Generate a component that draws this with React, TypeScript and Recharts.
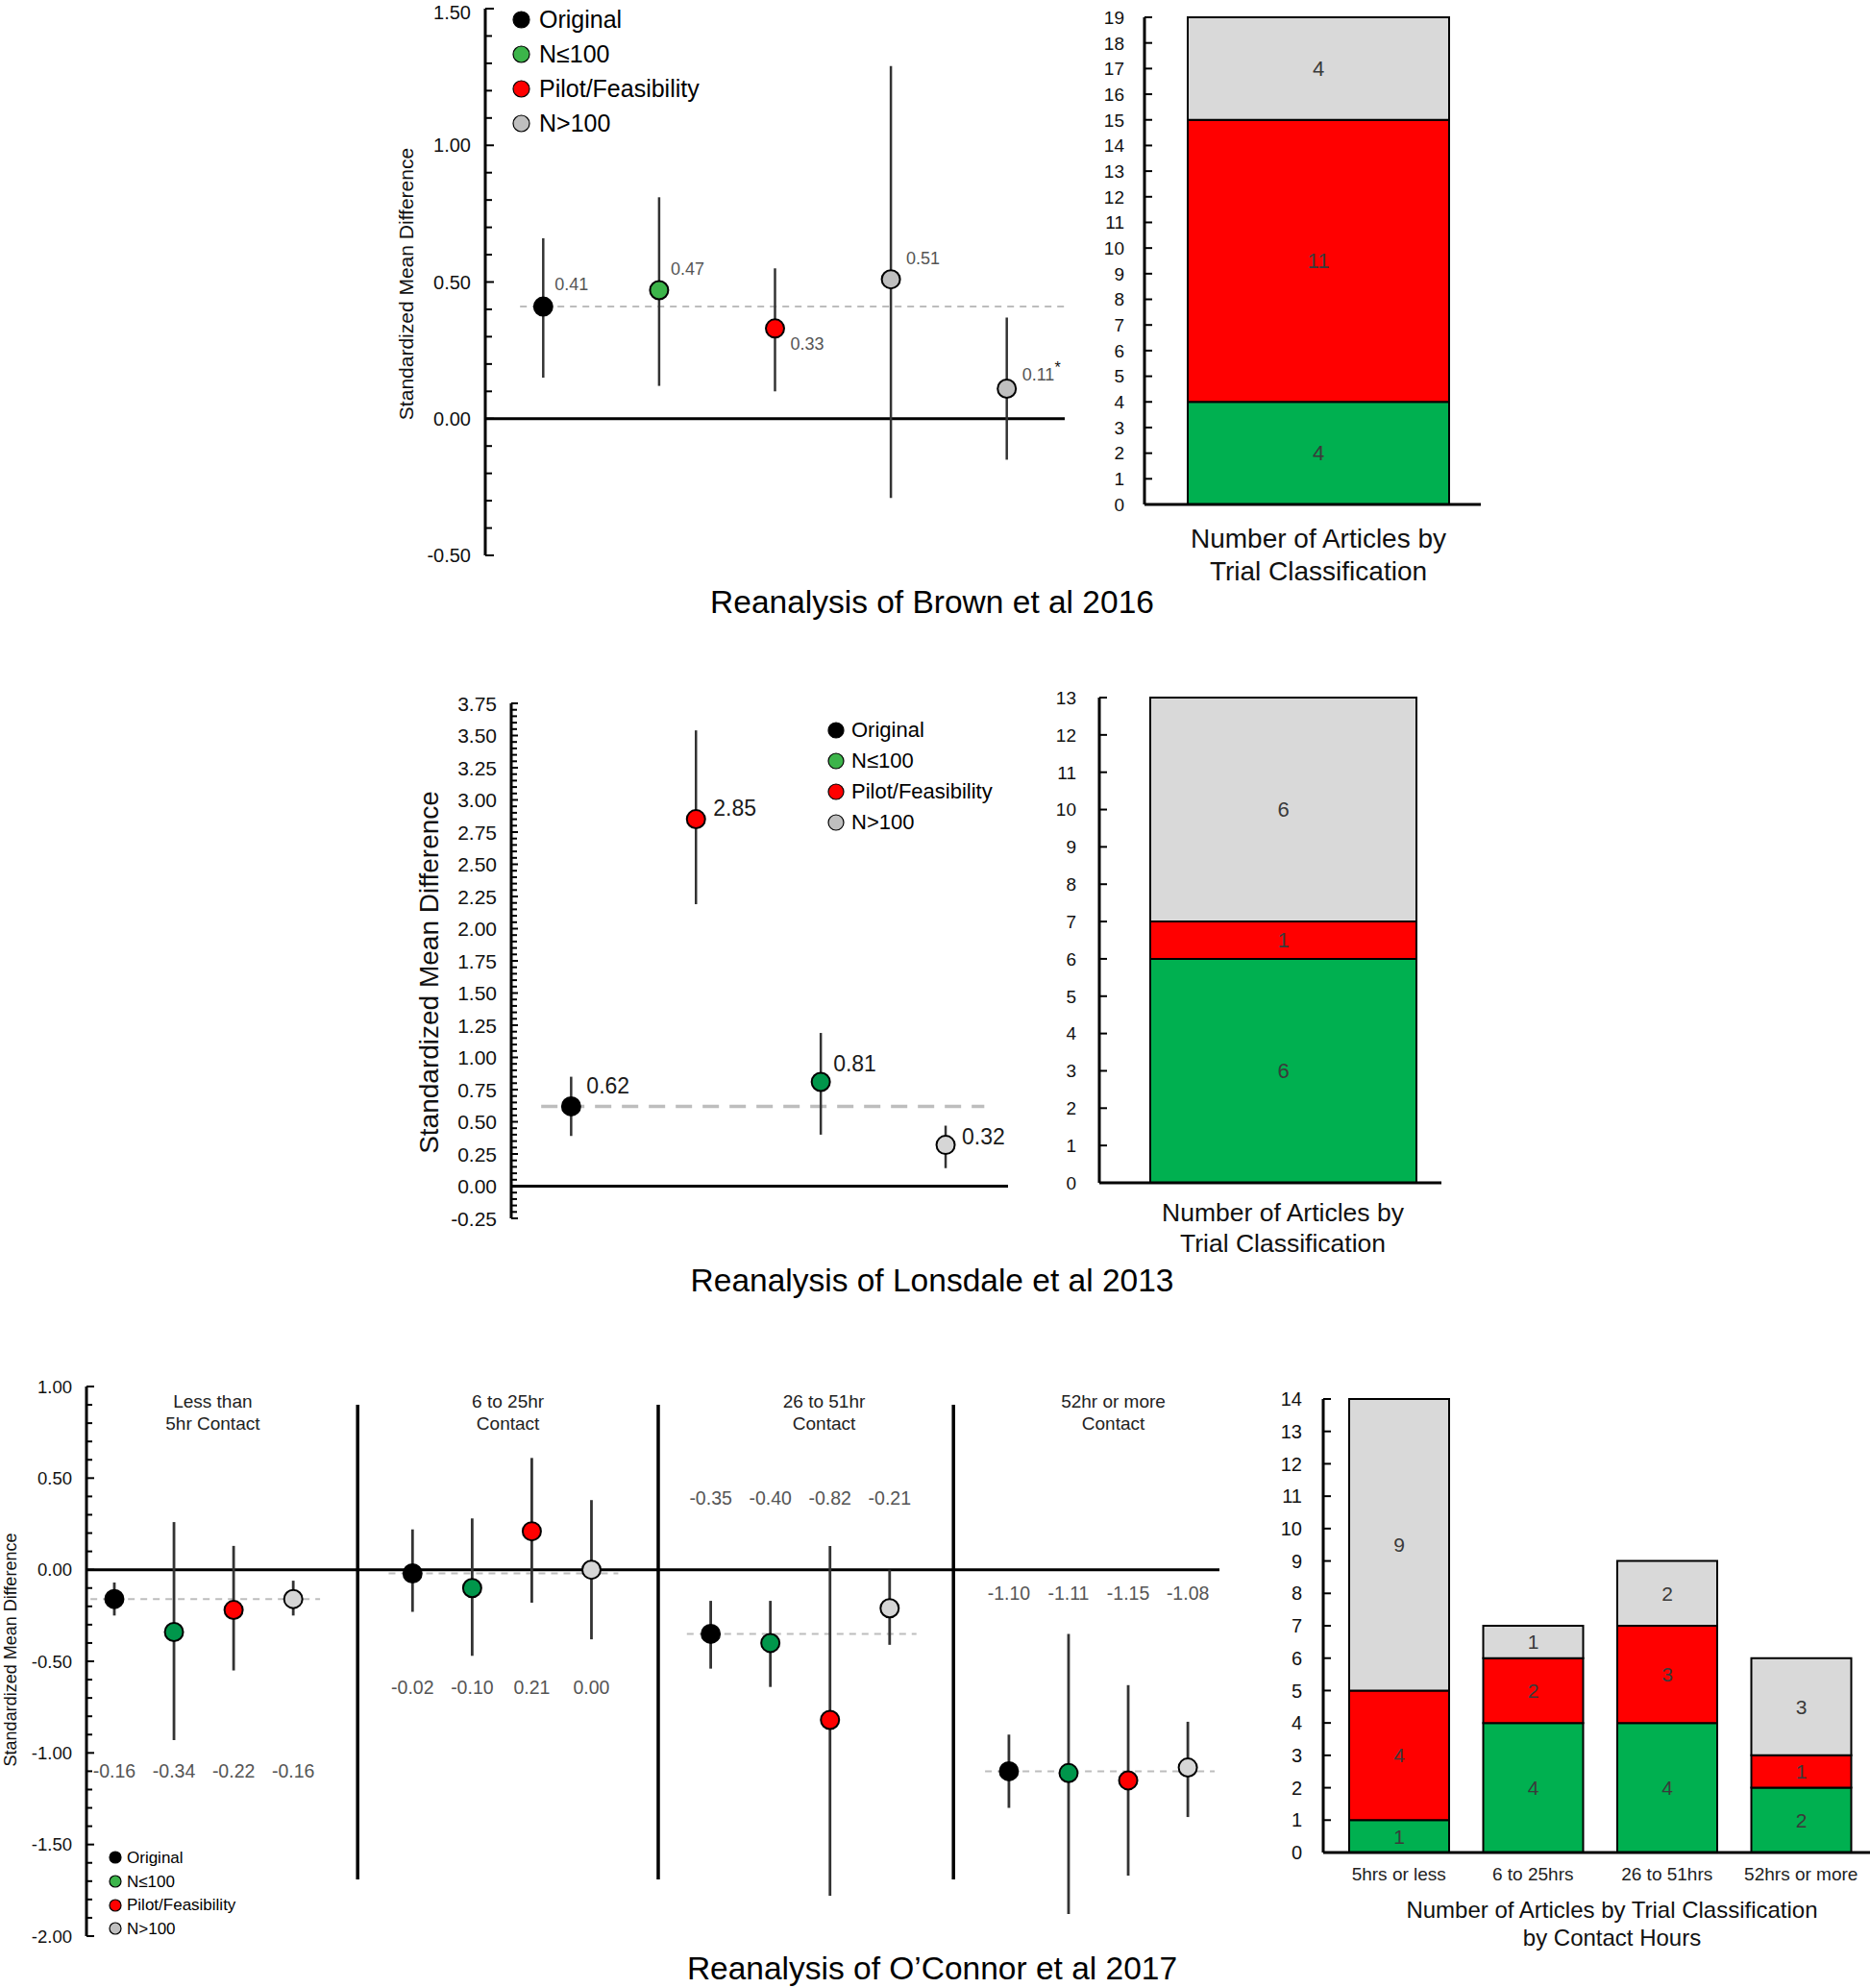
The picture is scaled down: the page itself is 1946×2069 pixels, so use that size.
import React from 'react';
import {
  ScatterChart,
  Scatter,
  XAxis,
  YAxis,
  ErrorBar,
  ReferenceLine,
  Legend,
  BarChart,
  Bar,
  LabelList,
} from 'recharts';

const FONT = '"Liberation Sans", Arial, Helvetica, sans-serif';

// trial classifications (legend order)
const classes = ['Original', 'N≤100', 'Pilot/Feasibility', 'N>100'];

// --- Reanalysis of Brown et al 2016 ---
const brownClass = [0, 1, 2, 3, 3];
const brownSmd = [0.41, 0.47, 0.33, 0.51, 0.11];
const brownLow = [0.15, 0.12, 0.1, -0.29, -0.15];
const brownHigh = [0.66, 0.81, 0.55, 1.29, 0.37];
const brownNote = ['', '', '', '', '*'];
const brownTicks = [-0.5, 0, 0.5, 1, 1.5];
const brownArticles = [4, 11, 4]; // N≤100, pilot, N>100

// --- Reanalysis of Lonsdale et al 2013 ---
const lonsClass = [0, 2, 1, 3];
const lonsSmd = [0.62, 2.85, 0.81, 0.32];
const lonsLow = [0.39, 2.19, 0.4, 0.14];
const lonsHigh = [0.85, 3.54, 1.19, 0.47];
const lonsTicks = [-0.25, 0, 0.25, 0.5, 0.75, 1, 1.25, 1.5, 1.75, 2, 2.25, 2.5, 2.75, 3, 3.25, 3.5, 3.75];
const lonsArticles = [6, 1, 6];

// --- Reanalysis of O'Connor et al 2017 ---
const contactGroups = ['Less than\n5hr Contact', '6 to 25hr\nContact', '26 to 51hr\nContact', '52hr or more\nContact'];
const oconSmd = [
  [-0.16, -0.34, -0.22, -0.16],
  [-0.02, -0.1, 0.21, 0.0],
  [-0.35, -0.4, -0.82, -0.21],
  [-1.1, -1.11, -1.15, -1.08],
];
const oconLow = [
  [-0.25, -0.93, -0.55, -0.25],
  [-0.23, -0.47, -0.18, -0.38],
  [-0.54, -0.64, -1.78, -0.41],
  [-1.3, -1.88, -1.67, -1.35],
];
const oconHigh = [
  [-0.07, 0.26, 0.13, -0.06],
  [0.22, 0.28, 0.61, 0.38],
  [-0.17, -0.17, 0.13, 0.0],
  [-0.9, -0.35, -0.63, -0.83],
];
const oconTicks = [-2, -1.5, -1, -0.5, 0, 0.5, 1];
const hourLabels = ['5hrs or less', '6 to 25hrs', '26 to 51hrs', '52hrs or more'];
const hourSmall = [1, 4, 4, 2];
const hourPilot = [4, 2, 3, 1];
const hourLarge = [9, 1, 2, 3];

const articleCaption = 'Number of Articles by\nTrial Classification';

// --- styling ---
const BAR_GREEN = '#00b050';
const BAR_RED = '#ff0000';
const BAR_GRAY = '#d9d9d9';
const brownFills = ['#000000', '#3cb44a', '#ff0000', '#bfbfbf'];
const lonsFills = ['#000000', '#00964b', '#ff0000', '#d6d6d6'];
const legendFills = ['#000000', '#3cb44a', '#ff0000', '#bfbfbf'];
const brownLabelOffset = [[12, -24], [12, -23], [16, 16], [16, -22], [16, -15]];
const lonsLabelOffset = [[16, -22], [18, -12], [13, -19], [17, -9]];
// y (in SMD units) where each contact group's value row sits, and title x centres
const oconRowY = [-1.1, -0.64, 0.39, -0.13];
const oconTitleX = [2.65, 7.6, 12.9, 17.75];
const oconSeparators = [5.08, 10.12, 15.07];

const range = (a: number, b: number, step: number) => {
  const out: number[] = [];
  for (let v = a; v <= b + 1e-9; v += step) out.push(Math.round(v * 1000) / 1000);
  return out;
};

const axisTick =
  (o: { size: number; major: number[]; gap: number; long: number; short: number; digits: number }) =>
  (p: any) => {
    const v = Number(p.payload.value);
    const isMajor = o.major.some((m) => Math.abs(m - v) < 1e-6);
    // keep the topmost label inside the svg
    const ty = Math.max(p.y, o.size * 0.62);
    return (
      <g>
        <line x1={p.x} x2={p.x + (isMajor ? o.long : o.short)} y1={p.y} y2={p.y} stroke="#000" strokeWidth={2} />
        {isMajor && (
          <text x={p.x - o.gap} y={ty} dy="0.36em" textAnchor="end" fontSize={o.size} fontFamily={FONT} fill="#111">
            {v.toFixed(o.digits)}
          </text>
        )}
      </g>
    );
  };

const yTitle = (dx: number, dy: number, size: number) => (p: any) => {
  const vb = p.viewBox || { x: 0, y: 0, width: 0, height: 0 };
  const cx = vb.x + dx;
  const cy = vb.y + vb.height / 2 + dy;
  return (
    <text
      transform={`translate(${cx},${cy}) rotate(-90)`}
      textAnchor="middle"
      dominantBaseline="central"
      fontSize={size}
      fontFamily={FONT}
      fill="#111"
    >
      Standardized Mean Difference
    </text>
  );
};

const dot = (fills: string[], r: number, size: number, color: string) => (p: any) => {
  const d = p.payload;
  return (
    <g>
      <circle cx={p.cx} cy={p.cy} r={r} fill={fills[d.cls]} stroke="#000" strokeWidth={2} />
      {d.text && (
        <text x={p.cx + d.off[0]} y={p.cy + d.off[1]} dy="0.36em" fontSize={size} fontFamily={FONT} fill={color}>
          {d.text}
          {d.note && (
            <tspan dy="-0.5em" fontSize={size * 0.9} fill="#111">
              {d.note}
            </tspan>
          )}
        </text>
      )}
    </g>
  );
};

const legendBox = (size: number, r: number, row: number, gap: number) => () => (
  <div style={{ fontFamily: FONT, fontSize: size, color: '#000', lineHeight: 1 }}>
    {classes.map((c, i) => (
      <div key={c} style={{ display: 'flex', alignItems: 'center', height: row }}>
        <svg width={2 * r + 2} height={2 * r + 2} style={{ flex: 'none' }}>
          <circle cx={r + 1} cy={r + 1} r={r} fill={legendFills[i]} stroke="#000" strokeWidth={1.2} />
        </svg>
        <span style={{ marginLeft: gap, whiteSpace: 'nowrap' }}>{c}</span>
      </div>
    ))}
  </div>
);

const captionTick = (size: number, first: number, step: number) => (p: any) => {
  const lines = String(p.payload.value).split('\n');
  return (
    <text x={p.x} y={p.y + first} textAnchor="middle" fontSize={size} fontFamily={FONT} fill="#111">
      {lines.map((l, i) => (
        <tspan key={i} x={p.x} dy={i === 0 ? '0.36em' : step}>
          {l}
        </tspan>
      ))}
    </text>
  );
};

const segLabel = (color: string, size: number) => ({ position: 'center' as const, fill: color, fontSize: size, fontFamily: FONT });

function BrownForest() {
  const pts = brownSmd.map((v, i) => ({
    x: i + 0.5,
    y: v,
    err: [v - brownLow[i], brownHigh[i] - v],
    cls: brownClass[i],
    text: v.toFixed(2),
    note: brownNote[i],
    off: brownLabelOffset[i],
  }));
  return (
    <ScatterChart width={760} height={600} margin={{ top: 9, right: 32, bottom: 22, left: 0 }}>
      <XAxis type="number" dataKey="x" domain={[0, 5]} hide />
      <YAxis
        type="number"
        dataKey="y"
        domain={[-0.5, 1.5]}
        allowDataOverflow
        ticks={range(-0.5, 1.5, 0.1)}
        interval={0}
        width={125}
        tickSize={0}
        tickMargin={0}
        tickLine={false}
        axisLine={{ stroke: '#000', strokeWidth: 3 }}
        tick={axisTick({ size: 20, major: brownTicks, gap: 15, long: 9, short: 7, digits: 2 })}
        label={{ content: yTitle(42, 2, 21) }}
      />
      <ReferenceLine y={0} stroke="#000" strokeWidth={3} />
      <ReferenceLine
        segment={[{ x: 0.3, y: brownSmd[0] }, { x: 5, y: brownSmd[0] }]}
        stroke="#bdbdbd"
        strokeWidth={2}
        strokeDasharray="7 6"
      />
      <Scatter data={pts} shape={() => <g />} isAnimationActive={false}>
        <ErrorBar dataKey="err" direction="y" width={0} stroke="#333" strokeWidth={2.5} />
      </Scatter>
      <Scatter data={pts} shape={dot(brownFills, 9.5, 18, '#555')} isAnimationActive={false} />
      <Legend
        layout="vertical"
        align="center"
        verticalAlign="middle"
        content={legendBox(25, 8.5, 36, 9)}
        wrapperStyle={{ left: 153, top: 2, width: 'auto', height: 'auto' }}
      />
    </ScatterChart>
  );
}

function LonsdaleForest() {
  const pts = lonsSmd.map((v, i) => ({
    x: i + 1,
    y: v,
    err: [v - lonsLow[i], lonsHigh[i] - v],
    cls: lonsClass[i],
    text: v.toFixed(2),
    note: '',
    off: lonsLabelOffset[i],
  }));
  return (
    <ScatterChart width={640} height={600} margin={{ top: 32, right: 11, bottom: 32, left: 0 }}>
      <XAxis type="number" dataKey="x" domain={[0.52, 4.5]} hide />
      <YAxis
        type="number"
        dataKey="y"
        domain={[-0.25, 3.75]}
        allowDataOverflow
        ticks={range(-0.25, 3.75, 0.05)}
        interval={0}
        width={112}
        tickSize={0}
        tickMargin={0}
        tickLine={false}
        axisLine={{ stroke: '#000', strokeWidth: 3 }}
        tick={axisTick({ size: 21, major: lonsTicks, gap: 15, long: 7, short: 6, digits: 2 })}
        label={{ content: yTitle(26, 12, 28) }}
      />
      <ReferenceLine y={0} stroke="#000" strokeWidth={3} />
      <ReferenceLine
        segment={[{ x: 0.76, y: lonsSmd[0] }, { x: 4.31, y: lonsSmd[0] }]}
        stroke="#bdbdbd"
        strokeWidth={3.5}
        strokeDasharray="17 11"
      />
      <Scatter data={pts} shape={() => <g />} isAnimationActive={false}>
        <ErrorBar dataKey="err" direction="y" width={0} stroke="#333" strokeWidth={2.5} />
      </Scatter>
      <Scatter data={pts} shape={dot(lonsFills, 9.5, 23, '#1a1a1a')} isAnimationActive={false} />
      <Legend
        layout="vertical"
        align="center"
        verticalAlign="middle"
        content={legendBox(22, 8, 32, 7)}
        wrapperStyle={{ left: 441, top: 44, width: 'auto', height: 'auto' }}
      />
    </ScatterChart>
  );
}

function OConnorForest() {
  const pts = oconSmd.flatMap((g, gi) =>
    g.map((v, i) => ({
      x: gi * 5 + i + 1,
      y: v,
      err: [v - oconLow[gi][i], oconHigh[gi][i] - v],
      cls: i,
      text: '',
      note: '',
      off: [0, 0],
    }))
  );
  const rows = oconSmd.flatMap((g, gi) => g.map((v, i) => ({ x: gi * 5 + i + 1, y: oconRowY[gi], text: v.toFixed(2) })));
  const titles = contactGroups.map((t, gi) => ({ x: oconTitleX[gi], y: 0.86, text: t }));
  return (
    <ScatterChart width={1290} height={620} margin={{ top: 23, right: 21, bottom: 25, left: 0 }}>
      <XAxis type="number" dataKey="x" domain={[0.533, 19.53]} hide />
      <YAxis
        type="number"
        dataKey="y"
        domain={[-2, 1]}
        allowDataOverflow
        ticks={range(-2, 1, 0.1)}
        interval={0}
        width={90}
        tickSize={0}
        tickMargin={0}
        tickLine={false}
        axisLine={{ stroke: '#000', strokeWidth: 3 }}
        tick={axisTick({ size: 18.5, major: oconTicks, gap: 15, long: 8, short: 6, digits: 2 })}
        label={{ content: yTitle(11, -12, 18) }}
      />
      <ReferenceLine y={0} stroke="#000" strokeWidth={3} />
      {oconSeparators.map((sx) => (
        <ReferenceLine key={sx} segment={[{ x: sx, y: 0.9 }, { x: sx, y: -1.69 }]} stroke="#000" strokeWidth={3.5} />
      ))}
      {oconSmd.map((g, gi) => (
        <ReferenceLine
          key={gi}
          segment={[{ x: gi * 5 + 0.6, y: g[0] }, { x: gi * 5 + 4.45, y: g[0] }]}
          stroke="#bdbdbd"
          strokeWidth={2}
          strokeDasharray="7 6"
        />
      ))}
      <Scatter data={pts} shape={() => <g />} isAnimationActive={false}>
        <ErrorBar dataKey="err" direction="y" width={0} stroke="#333" strokeWidth={2.8} />
      </Scatter>
      <Scatter data={pts} shape={dot(lonsFills, 9.5, 17, '#555')} isAnimationActive={false} />
      <Scatter
        data={rows}
        isAnimationActive={false}
        shape={(p: any) => (
          <text x={p.cx} y={p.cy} dy="0.36em" textAnchor="middle" fontSize={19.5} fontFamily={FONT} fill="#555">
            {p.payload.text}
          </text>
        )}
      />
      <Scatter
        data={titles}
        isAnimationActive={false}
        shape={(p: any) => (
          <text x={p.cx} y={p.cy - 12} textAnchor="middle" fontSize={19} fontFamily={FONT} fill="#222">
            {String(p.payload.text)
              .split('\n')
              .map((l: string, i: number) => (
                <tspan key={i} x={p.cx} dy={i === 0 ? '0.36em' : 23}>
                  {l}
                </tspan>
              ))}
          </text>
        )}
      />
      <Legend
        layout="vertical"
        align="center"
        verticalAlign="middle"
        content={legendBox(17, 6, 24.7, 5)}
        wrapperStyle={{ left: 113, top: 501, width: 'auto', height: 'auto' }}
      />
    </ScatterChart>
  );
}

function SingleBar(props: {
  counts: number[];
  max: number;
  width: number;
  height: number;
  margin: { top: number; right: number; bottom: number; left: number };
  yWidth: number;
  padLeft: number;
  barSize: number;
  gap: number;
  xHeight: number;
  capFirst: number;
  capSize: number;
  capStep: number;
}) {
  const data = [{ name: articleCaption, small: props.counts[0], pilot: props.counts[1], large: props.counts[2] }];
  const ticks = range(0, props.max, 1);
  return (
    <BarChart width={props.width} height={props.height} data={data} margin={props.margin}>
      <XAxis
        dataKey="name"
        interval={0}
        height={props.xHeight}
        tickSize={0}
        tickMargin={0}
        tickLine={false}
        padding={{ left: props.padLeft, right: 0 }}
        axisLine={{ stroke: '#000', strokeWidth: 3 }}
        tick={captionTick(props.capSize, props.capFirst, props.capStep)}
      />
      <YAxis
        domain={[0, props.max]}
        ticks={ticks}
        interval={0}
        width={props.yWidth}
        tickSize={0}
        tickMargin={0}
        tickLine={false}
        axisLine={{ stroke: '#000', strokeWidth: 3 }}
        tick={axisTick({ size: 19, major: ticks, gap: props.gap, long: 8, short: 8, digits: 0 })}
      />
      <Bar dataKey="small" stackId="a" fill={BAR_GREEN} stroke="#000" strokeWidth={2} barSize={props.barSize} isAnimationActive={false}>
        <LabelList dataKey="small" {...segLabel('#3a3a3a', 22)} />
      </Bar>
      <Bar dataKey="pilot" stackId="a" fill={BAR_RED} stroke="#000" strokeWidth={2} barSize={props.barSize} isAnimationActive={false}>
        <LabelList dataKey="pilot" {...segLabel('#3a3a3a', 22)} />
      </Bar>
      <Bar dataKey="large" stackId="a" fill={BAR_GRAY} stroke="#000" strokeWidth={2} barSize={props.barSize} isAnimationActive={false}>
        <LabelList dataKey="large" {...segLabel('#3a3a3a', 22)} />
      </Bar>
    </BarChart>
  );
}

function HoursBars() {
  const data = hourLabels.map((h, i) => ({ name: h, small: hourSmall[i], pilot: hourPilot[i], large: hourLarge[i] }));
  const ticks = range(0, 14, 1);
  return (
    <BarChart width={646} height={618} data={data} margin={{ top: 36, right: 0, bottom: 0, left: 0 }}>
      <XAxis
        dataKey="name"
        interval={0}
        height={110}
        tickSize={0}
        tickMargin={0}
        tickLine={false}
        padding={{ left: 9, right: 2 }}
        axisLine={{ stroke: '#000', strokeWidth: 3 }}
        tick={(p: any) => (
          <text x={p.x} y={p.y + 22} dy="0.36em" textAnchor="middle" fontSize={19} fontFamily={FONT} fill="#222">
            {p.payload.value}
          </text>
        )}
        label={{
          content: (p: any) => {
            const vb = p.viewBox || { x: 77, y: 472, width: 569 };
            const cx = vb.x + vb.width / 2 + 16;
            return (
              <text x={cx} y={vb.y + 59} textAnchor="middle" fontSize={24} fontFamily={FONT} fill="#111">
                <tspan x={cx} dy="0.36em">
                  Number of Articles by Trial Classification
                </tspan>
                <tspan x={cx} dy={29}>
                  by Contact Hours
                </tspan>
              </text>
            );
          },
        }}
      />
      <YAxis
        domain={[0, 14]}
        ticks={ticks}
        interval={0}
        width={77}
        tickSize={0}
        tickMargin={0}
        tickLine={false}
        axisLine={{ stroke: '#000', strokeWidth: 3 }}
        tick={axisTick({ size: 20, major: ticks, gap: 22, long: 8, short: 8, digits: 0 })}
      />
      <Bar dataKey="small" stackId="a" fill={BAR_GREEN} stroke="#000" strokeWidth={2} barSize={104} isAnimationActive={false}>
        <LabelList dataKey="small" {...segLabel('#3a3a3a', 21)} />
      </Bar>
      <Bar dataKey="pilot" stackId="a" fill={BAR_RED} stroke="#000" strokeWidth={2} barSize={104} isAnimationActive={false}>
        <LabelList dataKey="pilot" {...segLabel('#3a3a3a', 21)} />
      </Bar>
      <Bar dataKey="large" stackId="a" fill={BAR_GRAY} stroke="#000" strokeWidth={2} barSize={104} isAnimationActive={false}>
        <LabelList dataKey="large" {...segLabel('#3a3a3a', 21)} />
      </Bar>
    </BarChart>
  );
}

const Title = ({ text, top }: { text: string; top: number }) => (
  <div
    style={{
      position: 'absolute',
      left: 570,
      width: 800,
      top,
      height: 40,
      lineHeight: '40px',
      textAlign: 'center',
      fontFamily: FONT,
      fontSize: 33.5,
      color: '#000',
    }}
  >
    {text}
  </div>
);

const at = (left: number, top: number): React.CSSProperties => ({ position: 'absolute', left, top });

export default function App() {
  return (
    <div style={{ position: 'absolute', left: 0, top: 0, width: 1946, height: 2069, background: '#fff', overflow: 'hidden' }}>
      <div style={at(380, 0)}>
        <BrownForest />
      </div>
      <div style={at(1120, 0)}>
        <SingleBar
          counts={brownArticles}
          max={19}
          width={440}
          height={620}
          margin={{ top: 18, right: 19, bottom: 0, left: 0 }}
          yWidth={71}
          padLeft={12}
          barSize={272}
          gap={21}
          xHeight={95}
          capFirst={35}
          capSize={28}
          capStep={34}
        />
      </div>
      <Title text="Reanalysis of Brown et al 2016" top={607} />

      <div style={at(420, 700)}>
        <LonsdaleForest />
      </div>
      <div style={at(1080, 700)}>
        <SingleBar
          counts={lonsArticles}
          max={13}
          width={440}
          height={621}
          margin={{ top: 26, right: 20, bottom: 0, left: 0 }}
          yWidth={64}
          padLeft={26}
          barSize={277}
          gap={24}
          xHeight={90}
          capFirst={30}
          capSize={26.5}
          capStep={32}
        />
      </div>
      <Title text="Reanalysis of Lonsdale et al 2013" top={1313} />

      <div style={at(0, 1420)}>
        <OConnorForest />
      </div>
      <div style={at(1300, 1420)}>
        <HoursBars />
      </div>
      <Title text="Reanalysis of O’Connor et al 2017" top={2029} />
    </div>
  );
}
